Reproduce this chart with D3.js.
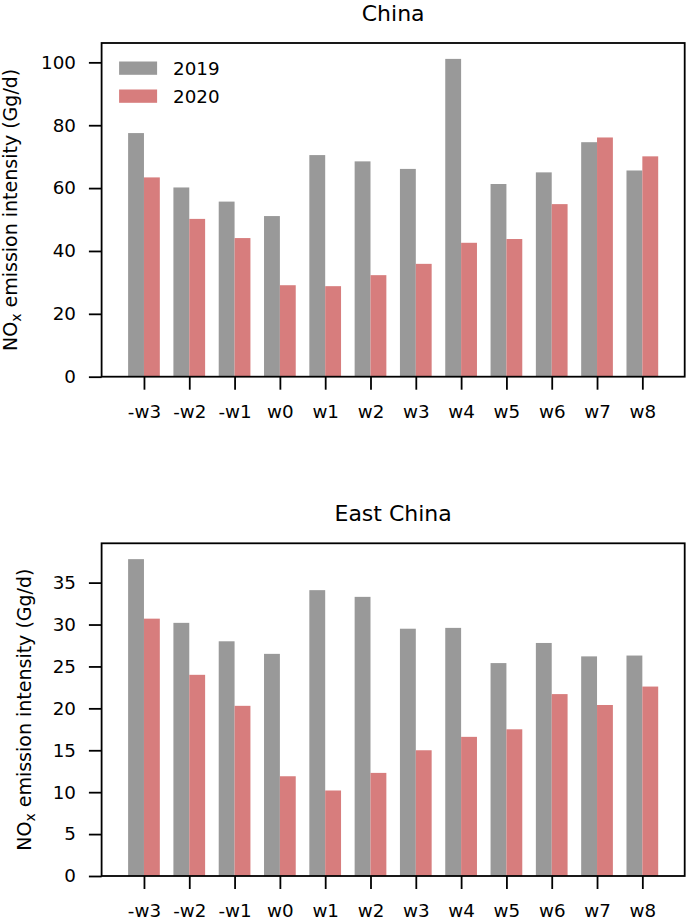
<!DOCTYPE html>
<html lang="en">
<head>
  <meta charset="utf-8" />
  <title>NOx emission intensity – China / East China</title>
  <style>
    html,body{margin:0;background:#fff;}
    svg{display:block;font-family:"DejaVu Sans",sans-serif;}
    .tick text{font-family:"DejaVu Sans",sans-serif;font-size:18.3px;fill:#000;}
    .tick line{stroke:#000;stroke-width:1.8;}
  </style>
</head>
<body>
  <svg id="chart" width="689" height="922"></svg>
  <script src="https://d3js.org/d3.v7.min.js"></script>
  <script>
    // ---- data ----
    const weeks = ['-w3','-w2','-w1','w0','w1','w2','w3','w4','w5','w6','w7','w8'];
    const years = ['2019','2020'];
    const china2019 = [77.5, 60.2, 55.7, 51.1, 70.5, 68.5, 66.1, 101.1, 61.3, 65.0, 74.6, 65.6];
    const china2020 = [63.4, 50.2, 44.1, 29.1, 28.8, 32.3, 35.9, 42.6, 43.8, 54.9, 76.1, 70.1];
    const east2019  = [37.8, 30.2, 28.0, 26.5, 34.1, 33.3, 29.5, 29.6, 25.4, 27.8, 26.2, 26.3];
    const east2020  = [30.7, 24.0, 20.3, 11.9, 10.2, 12.3, 15.0, 16.6, 17.5, 21.7, 20.4, 22.6];
    const chinaTicks = [0, 20, 40, 60, 80, 100];
    const eastTicks  = [0, 5, 10, 15, 20, 25, 30, 35];

    const colours = ['#999999', '#d77d7d'];
    const barW = 0.35;
    const svg = d3.select('#chart');

    function panel(o){
      const g = svg.append('g');
      const n = weeks.length;
      // matplotlib-like limits: 5% margin around bars, 5% headroom on top
      const x = d3.scaleLinear()
        .domain([-barW - 0.05*(n-1+2*barW), n-1+barW + 0.05*(n-1+2*barW)])
        .range([o.left, o.right]);
      const ymax = d3.max(o.series.flat()) * 1.05;
      const y = d3.scaleLinear().domain([0, ymax]).range([o.bottom, o.top]);

      o.series.forEach((vals, s) => {
        g.selectAll(null).data(vals).enter().append('rect')
          .attr('x', (d,i) => x(i + (s === 0 ? -barW : 0)))
          .attr('width', x(barW) - x(0))
          .attr('y', d => y(d))
          .attr('height', d => y(0) - y(d))
          .attr('fill', colours[s]);
      });

      const yAxis = g.append('g').attr('transform', `translate(${o.left},0)`)
        .call(d3.axisLeft(y).tickValues(o.ticks).tickSize(12.7).tickPadding(13).tickFormat(d3.format('d')));
      yAxis.select('.domain').remove();
      yAxis.attr('font-family', 'DejaVu Sans').attr('font-size', 18.3);

      const xAxis = g.append('g').attr('transform', `translate(0,${o.bottom})`)
        .call(d3.axisBottom(x).tickValues(d3.range(n)).tickSize(13).tickPadding(15).tickFormat(i => weeks[i]));
      xAxis.select('.domain').remove();
      xAxis.attr('font-family', 'DejaVu Sans').attr('font-size', 18.3);

      g.append('rect')
        .attr('x', o.left).attr('y', o.top)
        .attr('width', o.right - o.left).attr('height', o.bottom - o.top)
        .attr('fill', 'none').attr('stroke', '#000').attr('stroke-width', 1.8);

      g.append('text')
        .attr('x', (o.left + o.right)/2).attr('y', o.titleY)
        .attr('text-anchor', 'middle').style('font-size', '22px')
        .text(o.title);

      const lab = g.append('text')
        .attr('transform', `translate(${o.labelX},${(o.top + o.bottom)/2}) rotate(-90)`)
        .attr('text-anchor', 'middle').style('font-size', '19px');
      lab.append('tspan').text('NO');
      lab.append('tspan').attr('dy', 4).style('font-size', '14px').text('x');
      lab.append('tspan').attr('dy', -4).text(' emission intensity (Gg/d)');

      if (o.legend){
        const lg = g.append('g').attr('transform', `translate(${o.left + 17.5},${o.top + 18.5})`);
        years.forEach((yr, s) => {
          lg.append('rect').attr('x', 0).attr('y', s*28).attr('width', 38).attr('height', 13.3).attr('fill', colours[s]);
          lg.append('text').attr('x', 54).attr('y', s*28 + 13.5).style('font-size', '18.3px').text(yr);
        });
      }
    }

    panel({title:'China', series:[china2019, china2020], ticks:chinaTicks,
           left:101.6, right:684.7, top:43, bottom:376.7, titleY:20.7, labelX:17, legend:true});
    panel({title:'East China', series:[east2019, east2020], ticks:eastTicks,
           left:101.6, right:684.7, top:543.3, bottom:876, titleY:520.7, labelX:31, legend:false});
  </script>
</body>
</html>
